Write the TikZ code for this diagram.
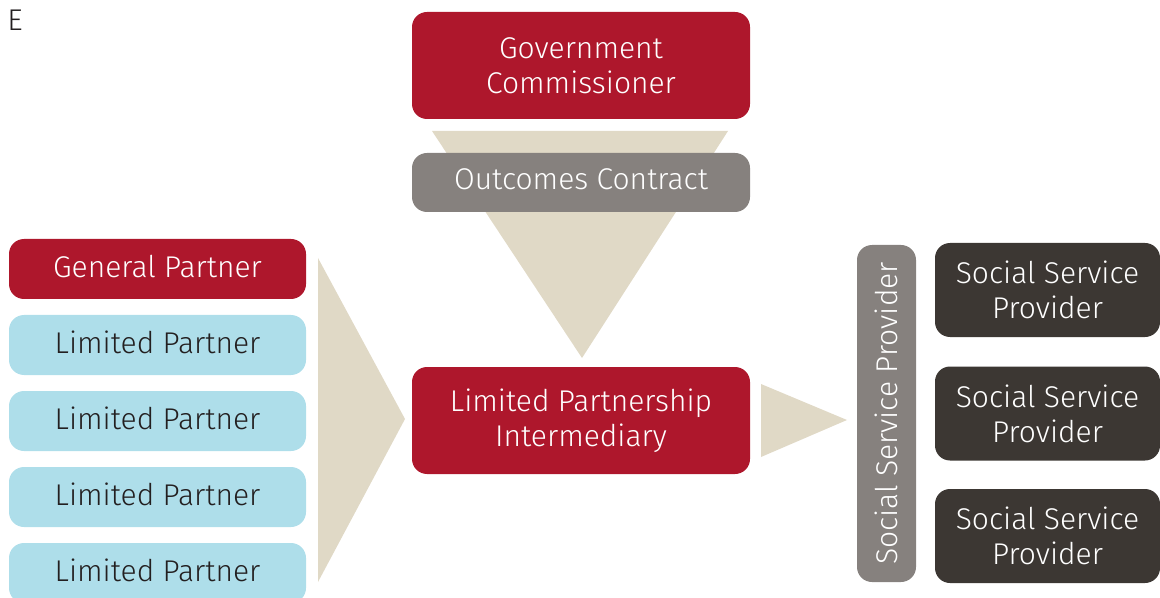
\documentclass[tikz,border=0pt]{standalone}
\usepackage{fontspec}
\setmainfont{Fira Sans}[UprightFont=* Light]
\usetikzlibrary{positioning}
\definecolor{govred}{HTML}{AE172C}
\definecolor{lpblue}{HTML}{AEDEEA}
\definecolor{contractgray}{HTML}{86817E}
\definecolor{ssdark}{HTML}{3C3733}
\definecolor{flowbeige}{HTML}{E0D9C6}
\definecolor{inktext}{HTML}{231F20}
\tikzset{
    box/.style={rounded corners=7.5pt,inner sep=0pt,align=center,font=\fontsize{15}{17.5}\selectfont},
    redbox/.style={box,fill=govred,text=white},
    graybox/.style={box,fill=contractgray,text=white},
    bluebox/.style={box,fill=lpblue,text=inktext},
    darkbox/.style={box,fill=ssdark,text=white},
    oneline/.style={text depth=3pt},
    flow/.style={fill=flowbeige,draw=none}
}
\newcommand{\partnerBox}[3]{%
    \node[bluebox,oneline,minimum width=148.5pt,minimum height=30pt] (#1) at (157.5,#2) {#3};
}
\newcommand{\providerBox}[2]{%
    \node[darkbox,minimum width=112.5pt,minimum height=47pt] (#1) at (1047.5,#2) {Social Service\\Provider};
}

\begin{document}
\begin{tikzpicture}[x=0.5pt,y=-0.5pt]
    \useasboundingbox (0,0) rectangle (1160,598);
    %label
    \node[anchor=base west,inner sep=0pt,text=inktext,font=\fontsize{15}{17.5}\selectfont] (tag) at (7,31) {E};
    %flows
    \fill[flow] (432,131) -- (728,131) -- (582,358) -- cycle;
    \fill[flow] (318,258) -- (405,419) -- (318,582) -- cycle;
    \fill[flow] (761,384) -- (847,420) -- (761,457) -- cycle;
    %centre
    \node[redbox,minimum width=169pt,minimum height=53.5pt] (gov) at (581,65.5) {Government\\Commissioner};
    \node[graybox,oneline,minimum width=169pt,minimum height=29.5pt] (contract) at (581,182.5) {Outcomes Contract};
    \node[redbox,minimum width=169pt,minimum height=53.5pt] (lpi) at (581,420.5) {Limited Partnership\\Intermediary};
    %partners
    \node[redbox,oneline,minimum width=148.5pt,minimum height=30pt] (gp) at (157.5,269) {General Partner};
    \partnerBox{lp1}{345}{Limited Partner}
    \partnerBox{lp2}{421}{Limited Partner}
    \partnerBox{lp3}{497}{Limited Partner}
    \partnerBox{lp4}{573}{Limited Partner}
    %providers
    \node[graybox,minimum width=29.5pt,minimum height=168.5pt] (ssp) at (886.5,413.5) {};
    \node[rotate=90,text=white,font=\fontsize{15}{17.5}\selectfont,inner sep=0pt] (ssplabel) at (ssp.center) {Social Service Provider};
    \providerBox{sp1}{290}
    \providerBox{sp2}{413.5}
    \providerBox{sp3}{536}
\end{tikzpicture}
\end{document}
